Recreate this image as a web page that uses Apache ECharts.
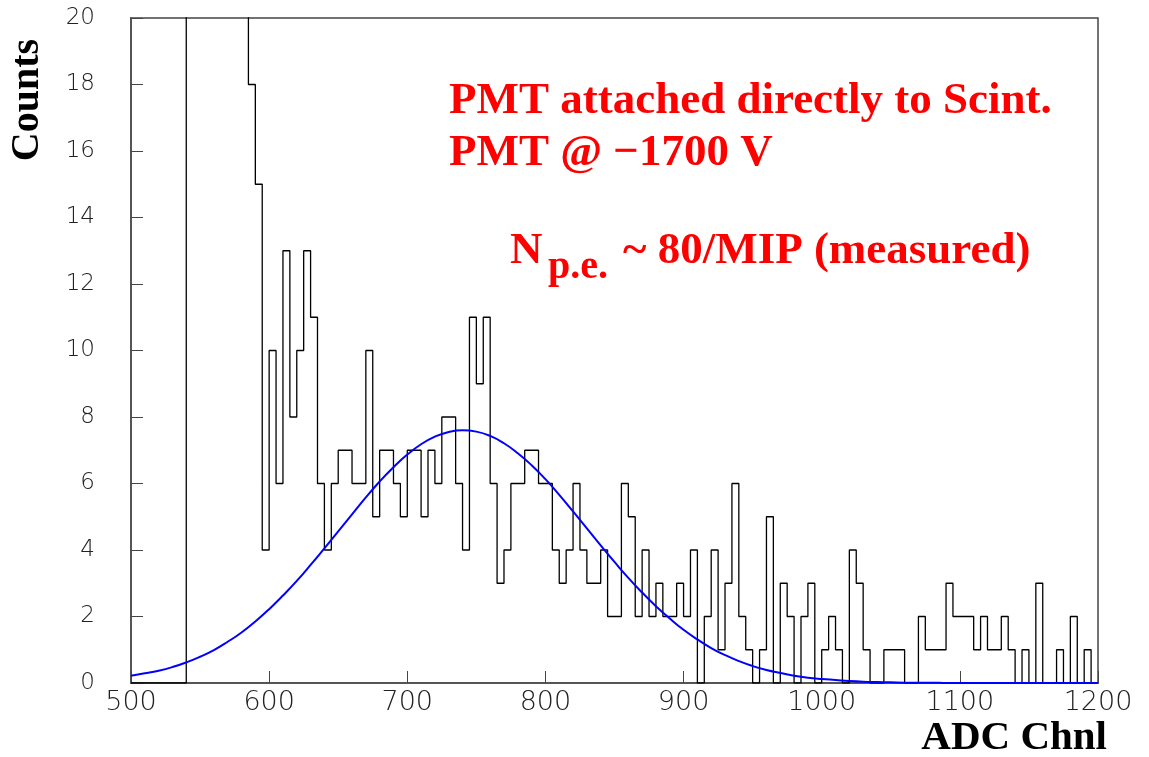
<!DOCTYPE html>
<html>
<head>
<meta charset="utf-8">
<script src="https://cdn.jsdelivr.net/npm/echarts@6/dist/echarts.min.js"></script>
<style>
html,body{margin:0;padding:0;background:#fff;}
#chart{width:1149px;height:757px;}
</style>
</head>
<body>
<div id="chart"></div>
<script>
// Histogram: bins of 5 ADC channels starting at 500 (values above 20 are off-scale)
var binStart = 500;
var binWidth = 5;
var counts = [
  0,0,0,0,0,0,0,0,180,150,110,80,60,45,35,28,22,18,15,4,        // 500-595
  10,6,13,8,10,13,11,6,4,6,7,7,6,6,10,5,7,7,6,5,                 // 600-695
  7,7,5,7,6,8,8,6,4,11,9,11,6,3,4,6,6,7,7,6,                     // 700-795
  6,4,3,4,6,4,3,3,4,2,2,6,5,2,4,2,3,2,2,3,                       // 800-895
  2,4,0,2,4,1,3,6,2,1,0,1,5,0,3,2,0,2,3,0,                       // 900-995
  1,2,1,0,4,3,1,0,0,1,1,1,0,0,2,1,1,1,3,2,                       // 1000-1095
  2,2,1,2,1,1,2,1,0,1,0,3,0,0,1,0,2,0,1,0                        // 1100-1195
];
// Fitted curve, every 10 channels from 500 to 1200
var fitX = [];
for (var i = 0; i <= 70; i++) fitX.push(500 + 10 * i);
var fitY = [
  0.22,0.29,0.37,0.48,0.62,0.79,0.99,1.24,1.52,1.85,
  2.22,2.63,3.07,3.55,4.05,4.56,5.07,5.58,6.06,6.49,
  6.87,7.18,7.41,7.55,7.60,7.56,7.43,7.21,6.91,6.55,
  6.13,5.66,5.16,4.65,4.14,3.64,3.16,2.72,2.31,1.94,
  1.60,1.31,1.05,0.84,0.66,0.51,0.39,0.30,0.22,0.16,
  0.12,0.09,0.06,0.04,0.03,0.02,0.01,0.01,0.01,0.00,
  0.00,0.00,0.00,0.00,0.00,0.00,0.00,0.00,0.00,0.00,0.00
];
var xTicks = [500,600,700,800,900,1000,1100,1200];
var yTicks = [0,2,4,6,8,10,12,14,16,18,20];

var histData = counts.map(function(c, i){ return [binStart + binWidth * i, c]; });
histData.push([binStart + binWidth * counts.length, 0]);
var fitData = fitX.map(function(x, i){ return [x, fitY[i]]; });

var chart = echarts.init(document.getElementById('chart'), null, {renderer:'canvas'});
var labelFont = {fontFamily:'DejaVu Sans', fontWeight:200, color:'#222'};
chart.setOption({
  animation:false,
  backgroundColor:'#fff',
  grid:{left:131, right:51, top:18, bottom:74, show:true, borderColor:'#444', borderWidth:1.5, backgroundColor:'transparent'},
  xAxis:{
    type:'value', min:xTicks[0], max:xTicks[xTicks.length-1], interval:100,
    axisLine:{show:true, onZero:false, lineStyle:{color:'#555', width:2}},
    axisTick:{show:true, inside:true, length:12, lineStyle:{color:'#444', width:1}},
    splitLine:{show:false},
    axisLabel:Object.assign({fontSize:27, margin:6, formatter:function(v){return String(v);}}, labelFont)
  },
  yAxis:{
    type:'value', min:yTicks[0], max:yTicks[yTicks.length-1], interval:2,
    axisLine:{show:true, lineStyle:{color:'#555', width:2}},
    axisTick:{show:true, inside:true, length:12, lineStyle:{color:'#444', width:1}},
    splitLine:{show:false},
    axisLabel:Object.assign({fontSize:23, margin:36, formatter:function(v){return String(v);}}, labelFont)
  },
  series:[
    {type:'line', step:'end', data:histData, symbol:'none', clip:true,
     lineStyle:{color:'#000', width:1.3}, z:2},
    {type:'line', smooth:true, data:fitData, symbol:'none', clip:true,
     lineStyle:{color:'#0000ff', width:2}, z:3}
  ],
  graphic:[
    {type:'text', x:449, y:101, style:{text:'PMT attached directly to Scint.', font:'bold 45px "Liberation Serif"', fill:'#ff0000', align:'left', verticalAlign:'middle'}},
    {type:'text', x:449, y:153, style:{text:'PMT @ \u22121700 V', font:'bold 45px "Liberation Serif"', fill:'#ff0000', align:'left', verticalAlign:'middle'}},
    {type:'text', x:510, y:251, style:{text:'N', font:'bold 45px "Liberation Serif"', fill:'#ff0000', align:'left', verticalAlign:'middle'}},
    {type:'text', x:548, y:268, style:{text:'p.e.', font:'bold 40px "Liberation Serif"', fill:'#ff0000', align:'left', verticalAlign:'middle'}},
    {type:'text', x:623, y:251, style:{text:'~ 80/MIP (measured)', font:'bold 45px "Liberation Serif"', fill:'#ff0000', align:'left', verticalAlign:'middle'}},
    {type:'text', x:28, y:100, rotation:Math.PI/2, style:{text:'Counts', font:'bold 40px "Liberation Serif"', fill:'#000', align:'center', verticalAlign:'middle'}},
    {type:'text', x:1107, y:738, style:{text:'ADC Chnl', font:'bold 41px "Liberation Serif"', fill:'#000', align:'right', verticalAlign:'middle'}}
  ]
});
</script>
</body>
</html>
